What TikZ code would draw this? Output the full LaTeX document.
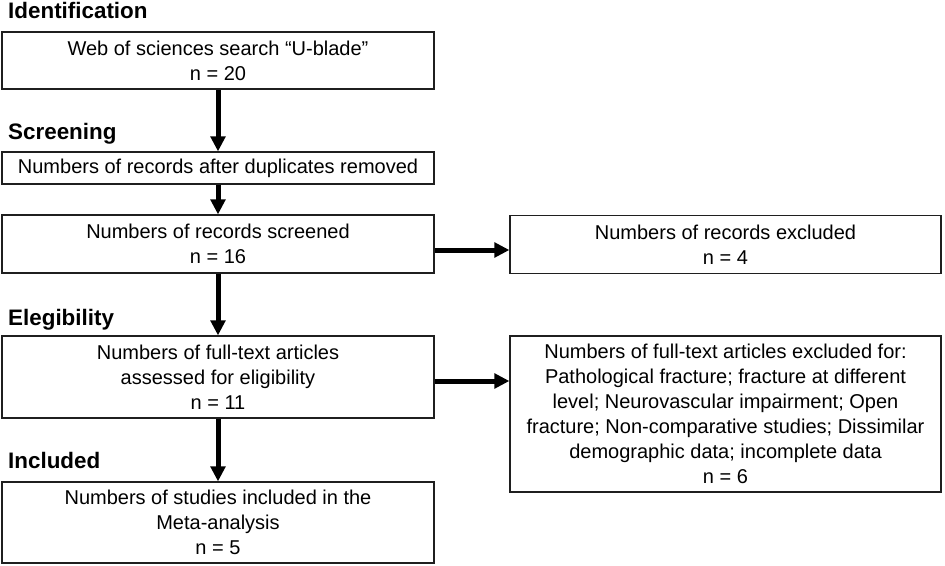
\documentclass[tikz,border=0pt]{standalone}
\usepackage{fontspec}
\setmainfont{Liberation Sans}
\usetikzlibrary{arrows.meta}
\begin{document}
\begin{tikzpicture}[x=1pt,y=-1pt,
  box/.style={draw=black!88, line width=1.2pt, align=center, inner sep=0pt, font=\fontsize{20}{25}\selectfont},
  head/.style={anchor=base west, inner sep=0pt, font=\fontsize{22.4}{26}\selectfont\bfseries},
  arr/.style={line width=5pt, -{Triangle[length=15pt,width=14.5pt]}}]
\useasboundingbox (0,0) rectangle (945,565);
\node[head] (h1) at (8,18.5) {Identification};
\node[head] (h2) at (8,139.5) {Screening};
\node[head] (h3) at (8,325) {Elegibility};
\node[head] (h4) at (8,468) {Included};
\node[box, minimum width=432pt, minimum height=57pt] (b1) at (218,60.5) {Web of sciences search “U-blade”\\n = 20};
\node[box, minimum width=432pt, minimum height=32pt] (b2) at (218,168) {Numbers of records after duplicates removed};
\node[box, minimum width=432pt, minimum height=58pt] (b3) at (218,244) {Numbers of records screened\\n = 16};
\node[box, minimum width=431pt, minimum height=58pt] (b4) at (725.5,244.5) {Numbers of records excluded\\n = 4};
\node[box, minimum width=432pt, minimum height=82pt] (b5) at (218,377) {Numbers of full-text articles\\assessed for eligibility\\n = 11};
\node[box, minimum width=431pt, minimum height=156pt] (b6) at (725.5,414) {Numbers of full-text articles excluded for:\\Pathological fracture; fracture at different\\level; Neurovascular impairment; Open\\fracture; Non-comparative studies; Dissimilar\\demographic data; incomplete data\\n = 6};
\node[box, minimum width=432pt, minimum height=81pt] (b7) at (218,522.5) {Numbers of studies included in the\\Meta-analysis\\n = 5};
\draw[arr] (b1) -- (b2);
\draw[arr] (b2) -- (b3);
\draw[arr] (b3) -- (b5);
\draw[arr] (b5) -- (b7);
\draw[arr] ([yshift=-6pt]b3.east) -- ([yshift=-6pt]b3.east -| b4.west);
\draw[arr] ([yshift=-4pt]b5.east) -- ([yshift=-4pt]b5.east -| b6.west);
\end{tikzpicture}
\end{document}
